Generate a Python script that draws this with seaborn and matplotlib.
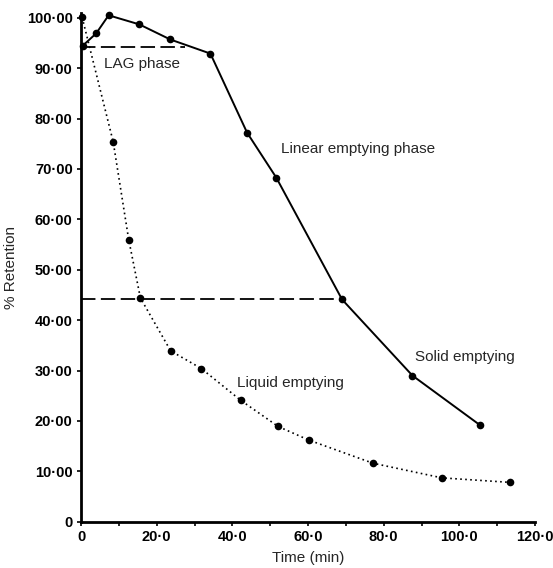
import matplotlib
matplotlib.use("Agg")
import matplotlib.pyplot as plt
import seaborn as sns
import pandas as pd

# values
solid_time = [0.5, 4.0, 7.3, 15.4, 23.6, 34.2, 43.9, 51.6, 69.0, 87.6, 105.4]
solid_ret = [94.5, 96.9, 100.5, 98.7, 95.7, 92.9, 77.2, 68.3, 44.1, 29.0, 19.2]

liquid_time = [0.3, 8.5, 12.6, 15.7, 23.7, 31.8, 42.2, 52.1, 60.2, 77.2, 95.4, 113.5]
liquid_ret = [100.1, 75.4, 56.0, 44.4, 33.9, 30.4, 24.1, 18.9, 16.2, 11.6, 8.7, 7.8]

lag_level = 94.2
lag_end = 27.5
half_level = 44.1
half_end = 69.0

x_ticks = [0, 20, 40, 60, 80, 100, 120]
x_labels = ["0", "20\u00b70", "40\u00b70", "60\u00b70", "80\u00b70", "100\u00b70", "120\u00b70"]
y_ticks = [0, 10, 20, 30, 40, 50, 60, 70, 80, 90, 100]
y_labels = ["0"] + [f"{v}\u00b700" for v in y_ticks[1:]]

solid = pd.DataFrame({"time": solid_time, "ret": solid_ret})
liquid = pd.DataFrame({"time": liquid_time, "ret": liquid_ret})

sns.set_style("ticks")
plt.rcParams["font.family"] = ["Liberation Sans", "DejaVu Sans"]

fig = plt.figure(figsize=(5.53, 5.68), dpi=100)
ax = fig.add_axes([0.1465, 0.0815, 0.821, 0.896])

sns.lineplot(data=solid, x="time", y="ret", color="black", lw=1.4,
             marker="o", markersize=5.5, markeredgewidth=0, ax=ax, clip_on=False)
sns.lineplot(data=liquid, x="time", y="ret", color="black", lw=1.2, ls=(0, (1, 2)),
             marker="o", markersize=5.5, markeredgewidth=0, ax=ax, clip_on=False)

ax.plot([0, lag_end], [lag_level, lag_level], color="black", lw=1.3, ls=(0, (8, 3)))
ax.plot([0, half_end], [half_level, half_level], color="black", lw=1.3, ls=(0, (8, 3)))

ax.text(6.1, 90.8, "LAG phase", fontsize=11, va="center")
ax.text(52.8, 73.9, "Linear emptying phase", fontsize=11, va="center")
ax.text(88.2, 32.7, "Solid emptying", fontsize=11, va="center")
ax.text(41.3, 27.5, "Liquid emptying", fontsize=11, va="center")

ax.set_xlim(0, 120)
ax.set_ylim(0, 101)
ax.set_xticks(x_ticks)
ax.set_xticklabels(x_labels, fontweight="bold", fontsize=10.5)
ax.set_xticks(range(10, 120, 20), minor=True)
ax.set_yticks(y_ticks)
ax.set_yticklabels(y_labels, fontweight="bold", fontsize=10.5)
ax.tick_params(axis="both", which="both", length=3, width=1.2, pad=3, colors="black")
ax.set_xlabel("Time (min)", fontsize=11, labelpad=5)
ax.set_ylabel("% Retention", fontsize=11, labelpad=6)

sns.despine(ax=ax)
for s in ["left", "bottom"]:
    ax.spines[s].set_linewidth(2)
    ax.spines[s].set_color("black")

fig.savefig("out.png", dpi=100)
